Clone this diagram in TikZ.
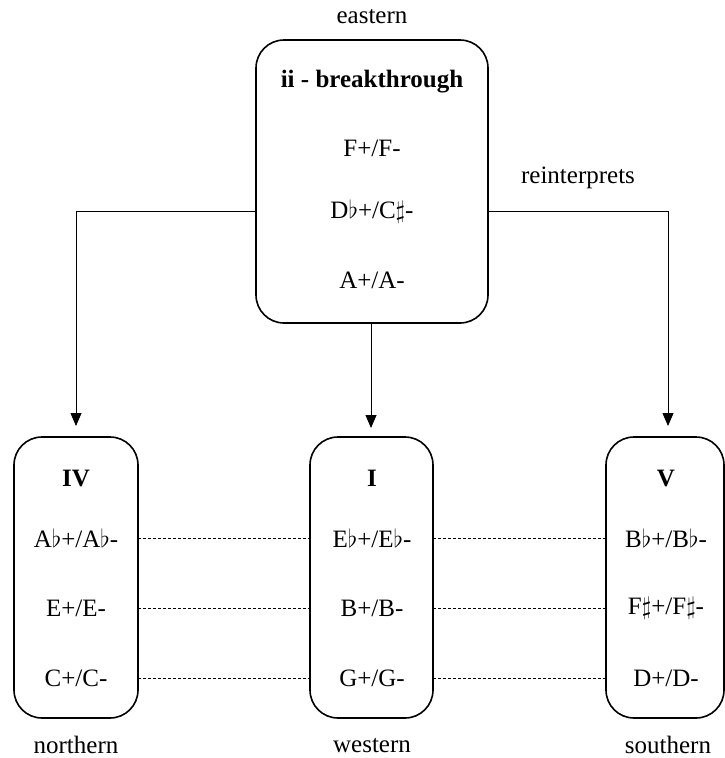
\documentclass[tikz,border=0pt]{standalone}
\usepackage{fontspec}
\setmainfont{Liberation Serif}
\usetikzlibrary{arrows.meta}
\newcommand{\fl}{\ensuremath{\flat}}
\newcommand{\sh}{\ensuremath{\sharp}}
\begin{document}
\begin{tikzpicture}[x=1pt,y=-1pt,
  keybox/.style={draw,line width=1.6pt,rounded corners=28pt},
  chord/.style={font=\fontsize{25}{28}\selectfont,inner sep=0pt},
  ttl/.style={font=\fontsize{25}{28}\selectfont\bfseries,inner sep=0pt},
  lbl/.style={font=\fontsize{25}{28}\selectfont,inner sep=0pt},
  link/.style={draw,line width=0.8pt,-{Triangle[length=13pt,width=11pt]}},
  relate/.style={draw,line width=0.7pt,dash pattern=on 3pt off 2pt}]
\useasboundingbox (0,0) rectangle (725,758);

% upper key area
\draw[keybox] (256,40) rectangle (488,323);
\node[lbl] (east) at (372,17) {eastern};
\node[ttl] (ii) at (372,82) {ii - breakthrough};
\node[chord] (t1) at (372,148) {F+/F-};
\node[chord] (t2) at (372,212) {D\fl+/C\sh-};
\node[chord] (t3) at (372,280) {A+/A-};
\node[lbl] (reint) at (578,178) {reinterprets};

% lower key areas
\draw[keybox] (14,437) rectangle (138,718);
\draw[keybox] (310,437) rectangle (433,718);
\draw[keybox] (606,437) rectangle (724,718);

\node[ttl] (IV) at (76,478) {IV};
\node[chord] (a1) at (76,538) {A\fl+/A\fl-};
\node[chord] (a2) at (76,608) {E+/E-};
\node[chord] (a3) at (76,678) {C+/C-};
\node[lbl,anchor=base] (north) at (76,753) {northern};

\node[ttl] (I) at (372,478) {I};
\node[chord] (b1) at (372,538) {E\fl+/E\fl-};
\node[chord] (b2) at (372,608) {B+/B-};
\node[chord] (b3) at (372,678) {G+/G-};
\node[lbl,anchor=base] (west) at (372,752) {western};

\node[ttl] (V) at (666,478) {V};
\node[chord] (c1) at (666,538) {B\fl+/B\fl-};
\node[chord] (c2) at (666,608) {F\sh+/F\sh-};
\node[chord] (c3) at (666,678) {D+/D-};
\node[lbl,anchor=base] (south) at (668,753) {southern};

% connectors from the upper area
\coordinate (lout) at (256,211);
\coordinate (rout) at (488,211);
\coordinate (mout) at (371,323);
\coordinate (ltip) at (76,426);
\coordinate (mtip) at (371,428);
\coordinate (rtip) at (668,426);
\draw[link] (lout) -| (ltip);
\draw[link] (rout) -| (rtip);
\draw[link] (mout) -- (mtip);

% dashed relations between rows
\foreach \y in {538,608,678}{
  \draw[relate] (138,\y) -- (310,\y);
  \draw[relate] (433,\y) -- (606,\y);
}
\end{tikzpicture}
\end{document}
